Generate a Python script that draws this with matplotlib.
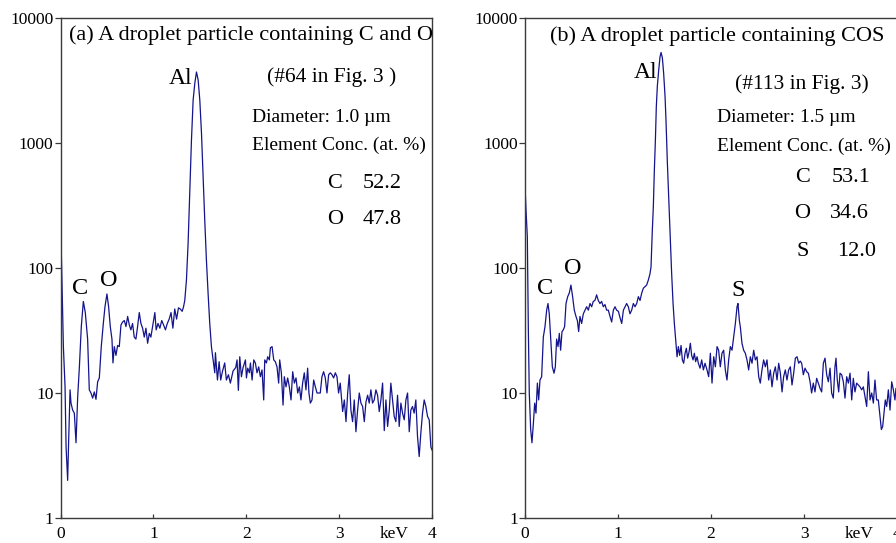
import numpy as np
import matplotlib
matplotlib.use("Agg")
from matplotlib import pyplot as plt
from matplotlib.ticker import FixedLocator, NullLocator

plt.rcParams['font.family'] = ['Liberation Serif', 'DejaVu Serif']

# ---- spectrum (a): droplet with C and O, #64 ----
left_kev = [0.0, 0.006, 0.031, 0.049, 0.060, 0.077, 0.088, 0.103, 0.113, 0.131,
            0.149, 0.167, 0.185, 0.203, 0.224, 0.246, 0.267, 0.292, 0.310, 0.328,
            0.346, 0.364, 0.382, 0.400, 0.418, 0.439, 0.461, 0.479, 0.500, 0.518,
            0.536, 0.554, 0.565, 0.579, 0.597, 0.615, 0.633, 0.651, 0.669, 0.687,
            0.705, 0.723, 0.741, 0.758, 0.776, 0.794, 0.812, 0.830, 0.848, 0.866,
            0.884, 0.902, 0.920, 0.938, 0.956, 0.973, 0.991, 1.016,
            1.03, 1.05, 1.07, 1.09, 1.11, 1.13, 1.15, 1.17, 1.19, 1.21,
            1.23, 1.25, 1.27, 1.29, 1.31, 1.325,
            1.338, 1.356, 1.374, 1.392, 1.410, 1.428, 1.446, 1.464, 1.482, 1.500,
            1.518, 1.535, 1.553, 1.571, 1.589, 1.607, 1.625, 1.643, 1.661, 1.668,
            1.690, 1.708, 1.725, 1.743, 1.768, 1.786, 1.808, 1.829, 1.858, 1.887,
            1.901, 1.915, 1.930, 1.948, 1.966,
            1.991, 2.002, 2.016, 2.034, 2.045, 2.063, 2.081, 2.098, 2.116, 2.134,
            2.152, 2.170, 2.188, 2.199, 2.217, 2.231, 2.249, 2.260, 2.278, 2.296,
            2.313, 2.331, 2.349, 2.360, 2.378, 2.396, 2.410, 2.428, 2.446, 2.464,
            2.482, 2.500, 2.518, 2.536, 2.554, 2.572, 2.589, 2.607, 2.625, 2.643,
            2.661, 2.675, 2.690, 2.708, 2.726, 2.744, 2.762, 2.779, 2.797, 2.815,
            2.833, 2.851, 2.869, 2.887, 2.905, 2.923, 2.941, 2.959, 2.977, 2.994,
            3.012,
            3.038, 3.056, 3.074, 3.092, 3.109, 3.127, 3.145, 3.163, 3.181, 3.199,
            3.217, 3.235, 3.253, 3.271, 3.289, 3.307, 3.324, 3.342, 3.360, 3.378,
            3.396, 3.414, 3.432, 3.450, 3.468, 3.486, 3.504, 3.522, 3.540, 3.557,
            3.575, 3.593, 3.611, 3.629, 3.647, 3.665, 3.683, 3.701, 3.719, 3.737,
            3.755, 3.772, 3.790, 3.808, 3.826, 3.844, 3.862, 3.880, 3.898, 3.916,
            3.934, 3.952, 3.970, 3.988, 4.0]
left_counts = [350, 167, 23.5, 11.2, 3.7, 2.0, 4.2, 10.6, 8.3, 7.3,
               6.9, 4.0, 9.3, 16, 34, 54, 44, 27, 10.6, 10,
               9.1, 10.2, 8.9, 12.3, 13.2, 23.5, 36, 49, 62, 49,
               34, 27, 17.4, 23.5, 20, 24, 23.5, 35, 37, 38,
               34, 41, 35, 32, 36, 28, 27, 34, 44, 36,
               33, 28, 33, 25, 30, 28, 34, 44,
               32, 36, 33, 38, 35, 32, 36, 39, 44, 33,
               47, 39, 48, 47, 45, 49,
               55, 80, 158, 420, 1050, 2200, 3000, 3700, 3200, 2200,
               1200, 540, 243, 116, 63, 36, 23.5, 18.4, 14.5, 21,
               12.7, 17.8, 12.7, 14.8, 17.4, 12.7, 14, 12, 15, 16,
               18.4, 10.5, 19.5, 13.5, 16,
               18.4, 13.2, 15.8, 14.5, 17.4, 12.7, 18.4, 17.4, 14.5, 16.2,
               13.5, 15.3, 8.8, 18.4, 17.4, 19.5, 18.4, 23, 23.5, 18.4,
               17.8, 16.2, 12, 18.4, 14.5, 8.0, 13.5, 11.2, 13.2, 11.2,
               8.8, 14.8, 12, 13.2, 10, 11.2, 8.8, 12, 14.5, 10.6,
               15.8, 10, 8.3, 8.8, 12.7, 11.2, 10, 10, 10, 13.5,
               14.8, 13.2, 10, 14, 14.5, 14, 13.2, 14.5, 13.5, 10,
               12,
               7.1, 8.8, 5.9, 10, 14, 7.3, 5.9, 8.8, 4.9, 7.3,
               10, 8.3, 7.8, 5.9, 8.5, 9.6, 8.3, 10.6, 8.3, 8.8,
               10.6, 9.6, 7.1, 8.8, 12, 5.0, 8.8, 5.4, 7.3, 12,
               8.8, 6.5, 5.9, 9.6, 5.4, 8.3, 6.9, 6.1, 8.8, 10,
               4.9, 7.3, 7.8, 6.9, 8.8, 4.5, 3.1, 4.8, 6.9, 8.8,
               7.8, 6.5, 6.1, 3.7, 3.5]

# ---- spectrum (b): droplet with COS, #113 ----
right_kev = [0.0, 0.011, 0.025, 0.036, 0.046, 0.061, 0.075, 0.090, 0.104, 0.118,
             0.133, 0.147, 0.161, 0.179, 0.197, 0.215, 0.233, 0.247, 0.261, 0.276,
             0.294, 0.312, 0.326, 0.340, 0.355, 0.369, 0.383, 0.398, 0.412, 0.426,
             0.441, 0.459, 0.476, 0.494, 0.512, 0.530, 0.548, 0.563, 0.577, 0.591,
             0.609, 0.627, 0.645, 0.663, 0.681, 0.699, 0.717, 0.734, 0.752, 0.770,
             0.788, 0.806, 0.824, 0.842, 0.860, 0.878, 0.896, 0.914, 0.932, 0.950,
             0.968, 0.985,
             1.004, 1.022, 1.040, 1.058, 1.093, 1.111, 1.129, 1.147, 1.165, 1.183,
             1.201, 1.219, 1.237, 1.255, 1.273, 1.291, 1.308, 1.326, 1.344, 1.355,
             1.369, 1.380, 1.391, 1.402, 1.412, 1.423, 1.438, 1.452, 1.463, 1.477,
             1.491, 1.506, 1.516, 1.531, 1.545, 1.563, 1.577, 1.592, 1.606, 1.620,
             1.635, 1.649, 1.663, 1.678, 1.692, 1.706, 1.721, 1.735, 1.749, 1.764,
             1.778, 1.792, 1.807, 1.821, 1.835, 1.850, 1.864, 1.882, 1.900, 1.918,
             1.936,
             1.957, 1.975, 1.993, 2.011, 2.029, 2.047, 2.065, 2.082, 2.100, 2.118,
             2.136, 2.154, 2.172, 2.190, 2.208, 2.226, 2.244, 2.262, 2.280, 2.290,
             2.305, 2.315, 2.333, 2.351, 2.369, 2.387, 2.405, 2.423, 2.441, 2.459,
             2.477, 2.495, 2.513, 2.530, 2.548, 2.566, 2.584, 2.602, 2.620, 2.638,
             2.656, 2.674, 2.692, 2.710, 2.728, 2.746, 2.764, 2.781, 2.799, 2.817,
             2.835, 2.853, 2.871, 2.889, 2.907, 2.925, 2.943,
             2.960, 2.975, 2.993, 3.011, 3.029, 3.047, 3.065, 3.082, 3.100, 3.118,
             3.136, 3.154, 3.172, 3.190, 3.208, 3.226, 3.244, 3.262, 3.280, 3.297,
             3.315, 3.333, 3.344, 3.358, 3.373, 3.387, 3.405, 3.423, 3.441, 3.459,
             3.477, 3.495, 3.513, 3.530, 3.548, 3.566, 3.584, 3.602, 3.620, 3.638,
             3.656, 3.674, 3.692, 3.710, 3.728, 3.746, 3.763, 3.781, 3.799, 3.817,
             3.832, 3.846, 3.860, 3.874, 3.889, 3.907, 3.925, 3.943, 3.961, 3.978,
             3.989, 4.0]
right_counts = [450, 290, 178, 32, 10, 5.1, 4.0, 5.7, 8.3, 6.9,
                12, 8.8, 12.7, 13.5, 28, 34, 46, 52, 43, 28,
                16.2, 14.4, 16.2, 27, 23.5, 30, 22, 31, 32, 34,
                52, 59, 63, 73, 59, 46, 41, 38, 31, 41,
                36, 43, 46, 49, 46, 52, 49, 54, 55, 61,
                55, 52, 54, 49, 51, 46, 46, 41, 37, 46,
                49, 46,
                45, 40, 36, 46, 52, 49, 43, 46, 52, 49,
                52, 59, 55, 63, 69, 71, 73, 80, 90, 102,
                200, 310, 610, 1050, 1950, 2850, 3850, 4900, 5300, 4800,
                3600, 2350, 1520, 690, 370, 168, 90, 52, 36, 27,
                19.5, 23.5, 20, 24, 18.4, 17.3, 20.8, 22.8, 19, 21.3,
                25, 20, 18.4, 20.8, 17.8, 19.5, 17.3, 15.8, 18.4, 15.3,
                17.3,
                15.3, 13.5, 20.8, 12, 19.5, 16.2, 23.5, 22, 16.2, 20.8,
                22, 15.3, 12.7, 18.4, 23.5, 22, 28, 36, 49, 52,
                38, 34, 25, 22, 20.8, 18.4, 15.3, 19.5, 17.3, 22,
                18.4, 19.5, 13.5, 12, 15.3, 18.4, 16.2, 18.4, 12.7, 15.3,
                11.2, 14.4, 16.2, 12.7, 17.3, 14.4, 10.2, 13.5, 15.3, 12.7,
                15.3, 16.2, 11.6, 14.4, 19, 19.5, 17.3,
                18, 17.3, 14, 15.8, 14.8, 14.4, 12.3, 10, 12, 10.2,
                13.1, 12, 10.9, 10.2, 17.3, 19, 14, 12.3, 15.8, 10,
                9.1, 16.2, 19, 12.7, 10.2, 14.4, 14, 12.3, 9.1, 13.5,
                12, 14.4, 8.8, 13.1, 10.2, 12, 11.6, 11.2, 10.6, 11.2,
                9.4, 7.8, 14.8, 8.8, 10, 8.3, 12.7, 8.8, 8.8, 6.5,
                5.1, 5.4, 6.9, 8.8, 7.8, 10.6, 7.3, 12.3, 10.6, 8.8,
                10.9, 9.5]

y_ticks = [1, 10, 100, 1000, 10000]
y_tick_labels = ['1', '10', '100', '1000', '10000']
x_ticks = [0, 1, 2, 3, 4]

line_color = '#14148c'
axis_color = '#3a3a3a'

fig = plt.figure(figsize=(8.96, 5.43), dpi=100)
ax1 = fig.add_axes([60.5 / 896, 25 / 543, 371.5 / 896, 500 / 543])
ax2 = fig.add_axes([525 / 896, 25 / 543, 372 / 896, 500 / 543])


def setup(ax):
    ax.set_yscale('log')
    ax.set_xlim(0, 4)
    ax.set_ylim(1, 10000)
    ax.yaxis.set_major_locator(FixedLocator(y_ticks))
    ax.yaxis.set_minor_locator(NullLocator())
    ax.set_yticklabels(y_tick_labels)
    ax.set_xticks(x_ticks)
    ax.set_xticklabels([str(t) for t in x_ticks])
    ax.tick_params(axis='y', direction='out', length=4, width=0.9, pad=1,
                   labelsize=12.5, colors=axis_color, labelcolor='black')
    ax.tick_params(axis='x', direction='in', length=3, width=0.9, pad=6,
                   labelsize=12.5, colors=axis_color, labelcolor='black')
    for s in ax.spines.values():
        s.set_color(axis_color)
        s.set_linewidth(1.0)
    ax.text(0.898, -0.032, 'keV', transform=ax.transAxes, ha='center',
            va='center', fontsize=12.5)


setup(ax1)
ax1.plot(left_kev, left_counts, color=line_color, lw=0.9)
ax1.text(0.513, 0.966, '(a) A droplet particle containing C and O',
         transform=ax1.transAxes, ha='center', va='center', fontsize=16)
ax1.text(0.354, 0.878, 'Al', transform=ax1.transAxes, ha='right', va='center', fontsize=17)
ax1.text(0.729, 0.882, '(#64 in Fig. 3 )', transform=ax1.transAxes, ha='center',
         va='center', fontsize=15.5)
ax1.text(0.515, 0.802, 'Diameter: 1.0 µm', transform=ax1.transAxes, ha='left',
         va='center', fontsize=14)
ax1.text(0.515, 0.746, 'Element Conc. (at. %)', transform=ax1.transAxes, ha='left',
         va='center', fontsize=14)
ax1.text(0.739, 0.670, 'C', transform=ax1.transAxes, ha='center', va='center', fontsize=16)
ax1.text(0.814, 0.670, '52.2', transform=ax1.transAxes, ha='left', va='center', fontsize=16)
ax1.text(0.739, 0.596, 'O', transform=ax1.transAxes, ha='center', va='center', fontsize=16)
ax1.text(0.814, 0.596, '47.8', transform=ax1.transAxes, ha='left', va='center', fontsize=16)
ax1.text(0.0525, 0.46, 'C', transform=ax1.transAxes, ha='center', va='center', fontsize=17.5)
ax1.text(0.131, 0.474, 'O', transform=ax1.transAxes, ha='center', va='center', fontsize=17.5)

setup(ax2)
ax2.plot(right_kev, right_counts, color=line_color, lw=0.9)
ax2.text(0.5175, 0.964, '(b) A droplet particle containing COS',
         transform=ax2.transAxes, ha='center', va='center', fontsize=16)
ax2.text(0.355, 0.892, 'Al', transform=ax2.transAxes, ha='right', va='center', fontsize=17)
ax2.text(0.743, 0.868, '(#113 in Fig. 3)', transform=ax2.transAxes, ha='center',
         va='center', fontsize=15.5)
ax2.text(0.516, 0.800, 'Diameter: 1.5 µm', transform=ax2.transAxes, ha='left',
         va='center', fontsize=14)
ax2.text(0.516, 0.744, 'Element Conc. (at. %)', transform=ax2.transAxes, ha='left',
         va='center', fontsize=14)
ax2.text(0.746, 0.682, 'C', transform=ax2.transAxes, ha='center', va='center', fontsize=16)
ax2.text(0.825, 0.682, '53.1', transform=ax2.transAxes, ha='left', va='center', fontsize=16)
ax2.text(0.746, 0.610, 'O', transform=ax2.transAxes, ha='center', va='center', fontsize=16)
ax2.text(0.820, 0.610, '34.6', transform=ax2.transAxes, ha='left', va='center', fontsize=16)
ax2.text(0.747, 0.532, 'S', transform=ax2.transAxes, ha='center', va='center', fontsize=16)
ax2.text(0.839, 0.532, '12.0', transform=ax2.transAxes, ha='left', va='center', fontsize=16)
ax2.text(0.054, 0.46, 'C', transform=ax2.transAxes, ha='center', va='center', fontsize=17.5)
ax2.text(0.129, 0.498, 'O', transform=ax2.transAxes, ha='center', va='center', fontsize=17.5)
ax2.text(0.573, 0.454, 'S', transform=ax2.transAxes, ha='center', va='center', fontsize=17.5)

fig.savefig('out.png', dpi=100)
